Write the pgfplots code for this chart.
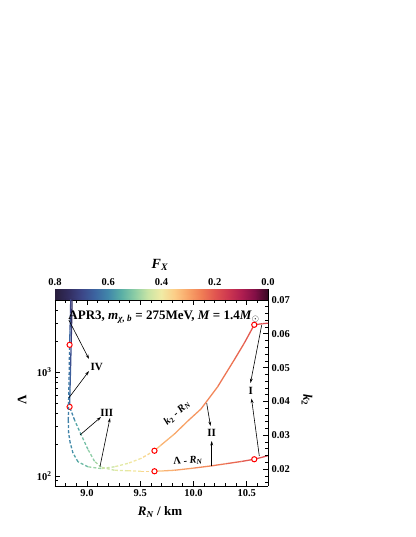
\documentclass[border=0pt]{standalone}
\usepackage{fontspec}
\setmainfont{Liberation Serif}
\usepackage{pgfplots}
\pgfplotsset{compat=1.18}
\usetikzlibrary{arrows.meta}

\pgfplotsset{
  colormap={fx}{rgb255(0pt)=(55,10,35); rgb255(1pt)=(130,15,70); rgb255(2pt)=(175,30,80); rgb255(3pt)=(205,55,80);
    rgb255(4pt)=(225,85,80); rgb255(5pt)=(240,125,85); rgb255(6pt)=(248,165,105); rgb255(7pt)=(252,205,135);
    rgb255(8pt)=(240,235,165); rgb255(9pt)=(200,228,165); rgb255(10pt)=(140,205,165); rgb255(11pt)=(90,175,165);
    rgb255(12pt)=(65,135,170); rgb255(13pt)=(60,100,160); rgb255(14pt)=(60,70,135); rgb255(15pt)=(50,45,95);
    rgb255(16pt)=(40,30,60)},
  mainax/.style={at={(55pt,51pt)}, anchor=south west, scale only axis, width=213pt, height=186pt,
    xmin=8.7, xmax=10.7, colormap name=fx, point meta min=0, point meta max=0.8,
    tick align=inside, major tick length=5pt, minor tick length=3pt,
    axis line style={line width=0.9pt}, every tick/.style={black, line width=0.7pt},
    every tick label/.append style={font=\fontsize{10.5}{12}\selectfont\bfseries}},
}

\begin{document}
\bfseries
\begin{tikzpicture}
\path[use as bounding box] (0pt,0pt) rectangle (415pt,537pt);

% colorbar
\begin{axis}[at={(55pt,237pt)}, anchor=south west, scale only axis, width=213pt, height=11pt,
  xmin=0, xmax=0.8, x dir=reverse, ymin=0, ymax=1, enlargelimits=false,
  ytick=\empty, xtick={0,0.2,0.4,0.6,0.8}, xtick pos=right, xticklabel pos=right,
  tick align=inside, major tick length=4pt, every tick/.style={black, line width=0.8pt},
  colormap name=fx, point meta min=0, point meta max=0.8, axis line style={line width=0.9pt},
  xticklabel style={font=\fontsize{10.5}{12}\selectfont\bfseries, /pgf/number format/.cd, fixed, fixed zerofill, precision=1, assume math mode=true}]
\addplot[surf, shader=interp, point meta=x, mesh/rows=2, mesh/cols=5] coordinates {(0,0) (0.2,0) (0.4,0) (0.6,0) (0.8,0) (0,1) (0.2,1) (0.4,1) (0.6,1) (0.8,1)};
\end{axis}

% Lambda axis (left, log)
\begin{axis}[mainax, ymode=log, ymin=80, ymax=5000, axis y line*=left,
  xtick={9,9.5,10,10.5},
  minor xtick={8.7,8.8,8.9,9.1,9.2,9.3,9.4,9.6,9.7,9.8,9.9,10.1,10.2,10.3,10.4,10.6,10.7},
  xticklabel style={/pgf/number format/.cd, fixed, fixed zerofill, precision=1, assume math mode=true},
  ytick={100,1000}, yticklabels={10\textsuperscript{2},10\textsuperscript{3}},
  minor ytick={80,90,200,300,400,500,600,700,800,900,2000,3000,4000,5000}]
\addplot[mesh, point meta=explicit, line width=1.3pt] table[x=R, y=L, meta=F] {
R L F
10.72 159.5 0.17
10.65 152 0.185
10.571 145 0.20
10.45 138 0.215
10.30 131 0.235
10.165 125 0.255
10.00 119 0.28
9.82 113.5 0.305
9.72 112 0.325
9.634 111 0.35
};
\addplot[mesh, point meta=explicit, line width=1.3pt, dash pattern=on 3pt off 2pt] table[x=R, y=L, meta=F] {
R L F
9.634 111 0.35
9.509 111 0.38
9.384 112.3 0.405
9.259 113.5 0.43
9.134 121.4 0.465
9.071 138.7 0.49
9.009 181 0.51
8.947 248 0.54
8.884 346 0.58
8.837 465 0.63
};
\addplot[mesh, point meta=explicit, line width=1.3pt] table[x=R, y=L, meta=F] {
R L F
8.837 465 0.63
8.841 700 0.65
8.846 1100 0.67
8.851 1800 0.70
8.856 3000 0.73
8.861 5400 0.76
};
\addplot[only marks, mark=*, mark size=2.6pt, mark options={draw=red, fill=white, line width=1pt}] coordinates {(10.571,145) (9.634,111) (8.837,465)};
\end{axis}

% k2 axis (right)
\begin{axis}[mainax, ymin=0.015, ymax=0.07, axis x line=none, axis y line*=right,
  scaled y ticks=false,
  ytick={0.02,0.03,0.04,0.05,0.06,0.07},
  minor ytick={0.016,0.018,0.022,0.024,0.026,0.028,0.032,0.034,0.036,0.038,0.042,0.044,0.046,0.048,0.052,0.054,0.056,0.058,0.062,0.064,0.066,0.068},
  yticklabel style={/pgf/number format/.cd, fixed, fixed zerofill, precision=2, assume math mode=true}]
\addplot[mesh, point meta=explicit, line width=1.3pt] table[x=R, y=K, meta=F] {
R K F
10.72 0.0632 0.17
10.65 0.0630 0.185
10.571 0.06267 0.20
10.477 0.05724 0.215
10.383 0.05230 0.23
10.228 0.04439 0.25
10.071 0.03778 0.275
9.947 0.03422 0.29
9.821 0.03037 0.305
9.696 0.02711 0.33
9.634 0.02542 0.35
};
\addplot[mesh, point meta=explicit, line width=1.3pt, dash pattern=on 3pt off 2pt] table[x=R, y=K, meta=F] {
R K F
9.634 0.02542 0.35
9.509 0.02317 0.38
9.384 0.02169 0.405
9.259 0.02068 0.43
9.134 0.02015 0.465
9.009 0.02068 0.51
8.916 0.02216 0.55
8.869 0.02474 0.58
8.843 0.02770 0.60
8.828 0.03067 0.605
8.825 0.03452 0.61
8.828 0.04044 0.615
8.832 0.04637 0.62
8.837 0.05674 0.63
};
\addplot[mesh, point meta=explicit, line width=1.3pt] table[x=R, y=K, meta=F] {
R K F
8.837 0.05674 0.63
8.841 0.0610 0.66
8.845 0.0660 0.69
8.849 0.0715 0.72
};
\addplot[only marks, mark=*, mark size=2.6pt, mark options={draw=red, fill=white, line width=1pt}] coordinates {(10.571,0.06267) (9.634,0.02542) (8.837,0.05674)};
\end{axis}

% axis labels
\node[font=\fontsize{14}{16}\selectfont\bfseries] at (160pt,272pt) {\textit{F}\textsubscript{\textit{X}}};
\node[font=\fontsize{13}{15}\selectfont\bfseries] at (160pt,25pt) {\textit{R}\textsubscript{\textit{N}} / km};
\node[font=\fontsize{13}{15}\selectfont\bfseries, rotate=90] at (22pt,137pt) {Λ};
\node[font=\fontsize{13}{15}\selectfont\bfseries, rotate=-90] at (307pt,137pt) {\textit{k}\textsubscript{2}};

% annotation
\node[font=\fontsize{13}{15}\selectfont\bfseries] at (164pt,220pt) {APR3, \textit{m}\textsubscript{\textit{χ, b}} = 275MeV, \textit{M} = 1.4\textit{M}\textsubscript{$\odot$}};

% curve labels
\node[font=\fontsize{10.5}{12}\selectfont\bfseries, rotate=42, inner sep=0pt] at (177pt,124pt) {\textit{k}\textsubscript{2} - \textit{R}\textsubscript{\textit{N}}};
\node[font=\fontsize{10.5}{12}\selectfont\bfseries, rotate=5, inner sep=0pt] at (188pt,76pt) {Λ - \textit{R}\textsubscript{\textit{N}}};

% region labels
\begin{scope}[font=\fontsize{11}{13}\selectfont\bfseries]
\node at (96.7pt,170.3pt) {IV};
\node at (106.7pt,124.3pt) {III};
\node at (211.7pt,103.7pt) {II};
\node at (250.7pt,146.3pt) {I};
\end{scope}

% arrows
\begin{scope}[line width=0.6pt, -{Stealth[length=4.5pt,width=2.8pt]}]
\draw (68.8pt,217pt) -- (89pt,178pt);
\draw (68.8pt,139pt) -- (89pt,166pt);
\draw (80pt,102pt) -- (101pt,120pt);
\draw (100pt,70.5pt) -- (110pt,119pt);
\draw (206.7pt,133.7pt) -- (210.5pt,111pt);
\draw (211.7pt,70.5pt) -- (211.7pt,96pt);
\draw (261.7pt,212pt) -- (250.5pt,154pt);
\draw (259.3pt,81pt) -- (251.5pt,138.5pt);
\end{scope}
\end{tikzpicture}
\end{document}
